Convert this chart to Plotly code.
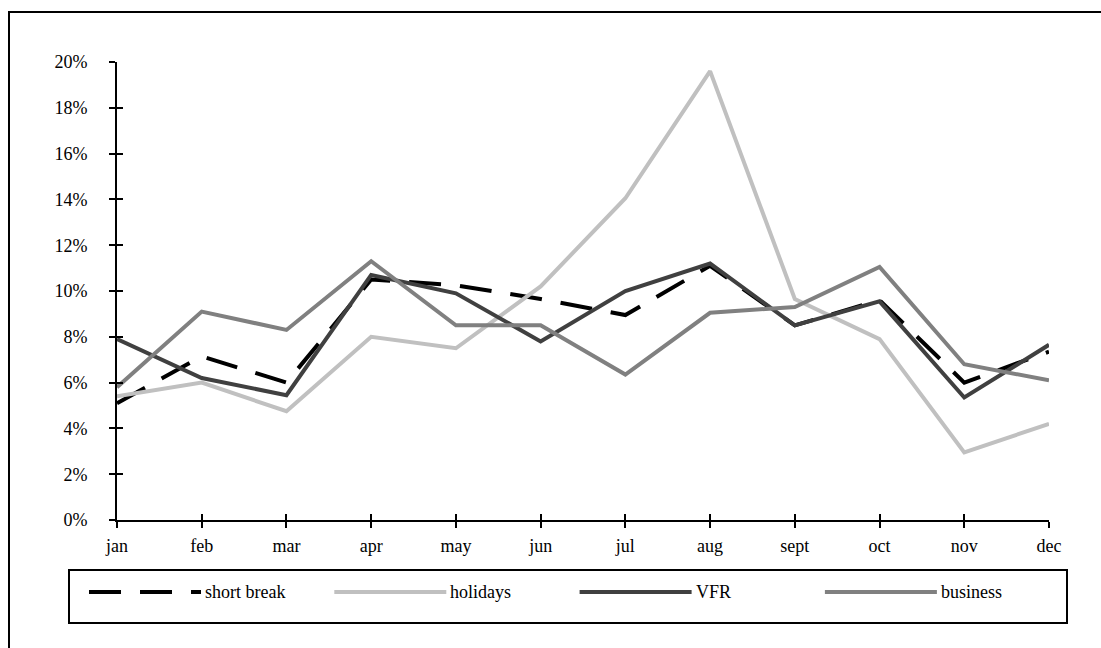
import plotly.graph_objects as go

# Monthly share of trips by purpose (%)
months = ["jan", "feb", "mar", "apr", "may", "jun", "jul", "aug", "sept", "oct", "nov", "dec"]
short_break = [5.1, 7.15, 6.0, 10.5, 10.25, 9.65, 8.95, 11.1, 8.5, 9.6, 6.0, 7.35]
holidays = [5.4, 6.0, 4.75, 8.0, 7.5, 10.2, 14.05, 19.6, 9.65, 7.9, 2.95, 4.2]
vfr = [7.9, 6.2, 5.45, 10.7, 9.9, 7.8, 10.0, 11.2, 8.5, 9.55, 5.35, 7.65]
business = [5.8, 9.1, 8.3, 11.3, 8.5, 8.5, 6.35, 9.05, 9.3, 11.05, 6.8, 6.1]

y_ticks = [0, 2, 4, 6, 8, 10, 12, 14, 16, 18, 20]

series = [
    ("short break", short_break, "#000000", "32px,19px"),
    ("holidays", holidays, "#c0c0c0", "solid"),
    ("VFR", vfr, "#404040", "solid"),
    ("business", business, "#808080", "solid"),
]

FONT = dict(family="Liberation Serif, Times New Roman, serif", size=18, color="#000000")
W, H = 1101, 648
L, R, T, B = 117, 1049, 62, 520  # plot area edges in pixels
LINE_W = 4


def px_x(px):
    return (px - L) / (R - L)


def px_y(py):
    return (B - py) / (B - T)


x_idx = list(range(len(months)))

fig = go.Figure()
for name, vals, color, dash in series:
    fig.add_trace(go.Scatter(
        x=x_idx, y=vals, mode="lines", name=name, showlegend=False,
        line=dict(color=color, width=LINE_W, dash=dash),
        hoverinfo="skip",
    ))

# companion axes carrying the inner half of the crossing tick marks
fig.add_trace(go.Scatter(x=[None], y=[None], xaxis="x2", yaxis="y2",
                         showlegend=False, hoverinfo="skip"))

axis_common = dict(showgrid=False, zeroline=False, tickwidth=2, tickcolor="#000000",
                   tickfont=FONT, ticklen=6)

fig.update_layout(
    width=W, height=H,
    margin=dict(l=L, r=W - R, t=T, b=H - B),
    paper_bgcolor="#ffffff", plot_bgcolor="#ffffff",
    font=FONT,
    xaxis=dict(range=[0, len(months) - 1], tickmode="array", tickvals=x_idx, ticktext=months,
               ticks="outside", showline=True, linewidth=2, linecolor="#000000",
               ticklabelstandoff=2, **axis_common),
    yaxis=dict(range=[0, 20], tickmode="array", tickvals=y_ticks,
               ticktext=[f"{v}%" for v in y_ticks],
               ticks="outside", showline=True, linewidth=2, linecolor="#000000",
               ticklabelstandoff=18, **axis_common),
    xaxis2=dict(overlaying="x", anchor="y2", range=[0, len(months) - 1], tickmode="array",
                tickvals=x_idx, ticks="inside", showticklabels=False, showline=False,
                **axis_common),
    yaxis2=dict(overlaying="y", anchor="x2", range=[0, 20], tickmode="array",
                tickvals=y_ticks, ticks="inside", showticklabels=False, showline=False,
                **axis_common),
)

shapes = []
annotations = []

# outer frame
shapes.append(dict(type="rect", xref="paper", yref="paper",
                   x0=px_x(9), x1=px_x(1110), y0=px_y(12), y1=px_y(660),
                   line=dict(color="#000000", width=2), fillcolor="rgba(0,0,0,0)", layer="below"))

# legend box
shapes.append(dict(type="rect", xref="paper", yref="paper",
                   x0=px_x(69), x1=px_x(1067), y0=px_y(570), y1=px_y(623),
                   line=dict(color="#000000", width=2), fillcolor="rgba(0,0,0,0)"))

leg_y = 592
sample_len = 112
for i, (name, vals, color, dash) in enumerate(series):
    x0 = 89 + i * 245.3
    x1 = x0 + sample_len
    shapes.append(dict(type="line", xref="paper", yref="paper",
                       x0=px_x(x0), x1=px_x(x1), y0=px_y(leg_y), y1=px_y(leg_y),
                       line=dict(color=color, width=LINE_W, dash=dash)))
    annotations.append(dict(xref="paper", yref="paper", x=px_x(x1 + 2), y=px_y(leg_y),
                            text=name, showarrow=False, xanchor="left", yanchor="middle",
                            font=FONT))

fig.update_layout(shapes=shapes, annotations=annotations)

fig.write_html("out.html")
